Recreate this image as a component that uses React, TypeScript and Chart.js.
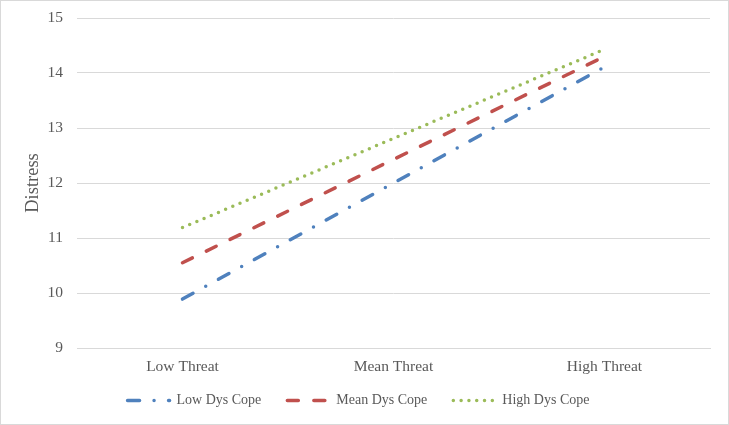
import React, { useEffect, useRef } from 'react';
import { Chart, registerables } from 'chart.js';

Chart.register(...registerables);

const categories = ['Low Threat', 'Mean Threat', 'High Threat'];
const seriesNames = ['Low Dys Cope', 'Mean Dys Cope', 'High Dys Cope'];
const lowDysCope = [9.89, 12.0, 14.11];
const meanDysCope = [10.55, 12.43, 14.3];
const highDysCope = [11.19, 12.81, 14.43];
const yMin = 9;
const yMax = 15;
const yStep = 1;

const TEXT = '#595959';
const GRID = '#d9d9d9';
const FONT = "'Liberation Serif', 'Times New Roman', serif";
const LEGEND_DX = -4;
const LEGEND_DY = -10.5;

const legendShift = {
  id: 'legendShift',
  afterLayout(chart: any) {
    const lg = chart.legend;
    if (!lg) return;
    lg.left += LEGEND_DX;
    lg.right += LEGEND_DX;
    lg.top += LEGEND_DY;
    lg.bottom += LEGEND_DY;
  },
};

export default function App() {
  const ref = useRef<HTMLCanvasElement | null>(null);

  useEffect(() => {
    if (!ref.current) return;
    const chart = new Chart(ref.current, {
      type: 'line',
      data: {
        labels: categories,
        datasets: [
          {
            label: seriesNames[0],
            data: lowDysCope,
            borderColor: '#4F81BD',
            backgroundColor: '#4F81BD',
            borderWidth: 3.5,
            borderDash: [12, 14.5, 0, 14.5],
            borderCapStyle: 'round',
            pointRadius: 0,
            tension: 0,
            fill: false,
          },
          {
            label: seriesNames[1],
            data: meanDysCope,
            borderColor: '#C0504D',
            backgroundColor: '#C0504D',
            borderWidth: 3.5,
            borderDash: [11, 15.5],
            borderCapStyle: 'round',
            pointRadius: 0,
            tension: 0,
            fill: false,
          },
          {
            label: seriesNames[2],
            data: highDysCope,
            borderColor: '#9BBB59',
            backgroundColor: '#9BBB59',
            borderWidth: 3.5,
            borderDash: [0, 7.8],
            borderCapStyle: 'round',
            pointRadius: 0,
            tension: 0,
            fill: false,
          },
        ],
      },
      options: {
        animation: false,
        responsive: true,
        maintainAspectRatio: false,
        layout: { padding: { left: 14, top: 17, right: 18, bottom: 6 } },
        font: { family: FONT },
        plugins: {
          tooltip: { enabled: false },
          legend: {
            position: 'bottom',
            maxHeight: 40,
            labels: {
              usePointStyle: true,
              pointStyle: 'line',
              pointStyleWidth: 42,
              padding: 26,
              color: TEXT,
              font: { family: FONT, size: 14 },
              generateLabels: (c: any) => {
                const items = (Chart.defaults as any).plugins.legend.labels.generateLabels(c);
                return items.map((it: any) => {
                  const ds: any = c.data.datasets[it.datasetIndex];
                  return {
                    ...it,
                    pointStyle: 'line',
                    lineDash: ds.borderDash,
                    lineWidth: ds.borderWidth,
                    lineCap: ds.borderCapStyle,
                    strokeStyle: ds.borderColor,
                    fillStyle: ds.borderColor,
                  };
                });
              },
            },
          },
        },
        scales: {
          x: {
            offset: true,
            grid: { display: false, drawTicks: false },
            border: { display: true, color: GRID, width: 1 },
            ticks: { color: TEXT, padding: 9.5, font: { family: FONT, size: 15.5 } },
            afterFit: (s: any) => { s.height = 30; },
          },
          y: {
            min: yMin,
            max: yMax,
            ticks: { stepSize: yStep, color: TEXT, padding: 14, font: { family: FONT, size: 15.5 } },
            grid: { color: GRID, lineWidth: 1, drawTicks: false },
            border: { display: false },
            title: {
              display: true,
              text: 'Distress',
              color: TEXT,
              padding: { top: 7, bottom: 0 },
              font: { family: FONT, size: 18.5 },
            },
            afterFit: (s: any) => {
              s.width = 62;
              s.paddingTop = 9;
              s.paddingBottom = 9;
            },
          },
        },
      },
      plugins: [legendShift],
    } as any);
    return () => chart.destroy();
  }, []);

  return (
    <div
      style={{
        position: 'absolute',
        left: 0,
        top: 0,
        width: 729,
        height: 425,
        boxSizing: 'border-box',
        border: '1px solid #d9d9d9',
        background: '#ffffff',
      }}
    >
      <div style={{ position: 'relative', width: '100%', height: '100%' }}>
        <canvas ref={ref} />
      </div>
    </div>
  );
}
